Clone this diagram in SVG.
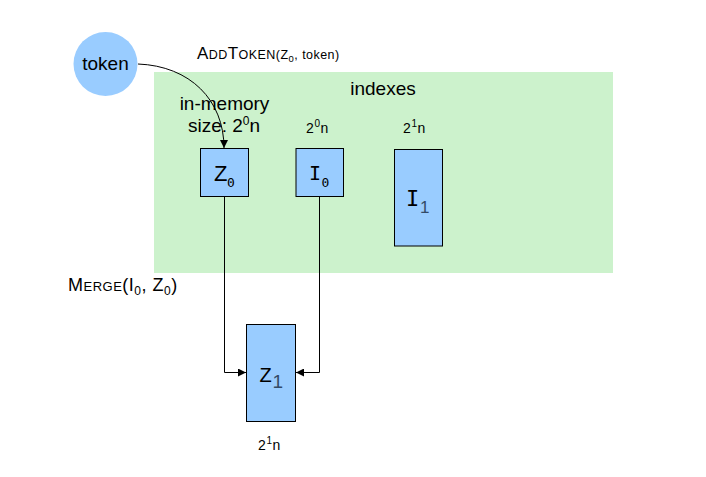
<svg xmlns="http://www.w3.org/2000/svg" width="706" height="477" viewBox="0 0 706 477">
<style>
.s{font-family:"Liberation Sans",Arial,sans-serif;fill:#000}
.m{font-family:"DejaVu Sans Mono",monospace;fill:#000}
.box{fill:#99ccff;stroke:#000;stroke-width:1}
.ln{fill:none;stroke:#000;stroke-width:1}
.dk{fill:#334a66}
.sz{font-size:14px;letter-spacing:0.6px}
</style>
<defs>
<marker id="ah" viewBox="0 0 10 10" refX="10" refY="5" markerWidth="8" markerHeight="8" markerUnits="userSpaceOnUse" orient="auto">
<path d="M0,0 L10,5 L0,10 z" fill="#000"/>
</marker>
</defs>
<rect width="706" height="477" fill="#fff"/>
<g id="indexes">
<rect x="154" y="72" width="459" height="201" fill="#ccf2cc"/>
<text class="s" x="383" y="95" font-size="19" text-anchor="middle">indexes</text>
</g>
<g id="token">
<circle cx="105.5" cy="64" r="32" fill="#99ccff"/>
<text class="s" x="105.5" y="70" font-size="19" text-anchor="middle">token</text>
</g>
<g id="labels">
<text class="s" x="197" y="59" font-size="17" letter-spacing="0.45">A<tspan font-size="12.5">DD</tspan>T<tspan font-size="12.5">OKEN(Z</tspan><tspan font-size="9.5" dy="3">0</tspan><tspan font-size="12.5" dy="-3">, token)</tspan></text>
<text class="s" x="224.5" y="110" font-size="19" text-anchor="middle">in-memory</text>
<text class="s" x="224" y="132" font-size="19" text-anchor="middle">size: 2<tspan font-size="12" dy="-7">0</tspan><tspan dy="7">n</tspan></text>
<text class="s" x="68" y="291" font-size="18" letter-spacing="0.5">M<tspan font-size="13">ERGE</tspan>(I<tspan font-size="12" dy="4">0</tspan><tspan dy="-4">, Z</tspan><tspan font-size="12" dy="4">0</tspan><tspan dy="-4">)</tspan></text>
</g>
<g id="Z0">
<rect class="box" x="200.5" y="148.5" width="48" height="48"/>
<text class="s" x="214" y="180.5" font-size="22">Z</text>
<text class="m" x="227" y="187" font-size="13">0</text>
</g>
<g id="I0">
<rect class="box" x="296" y="148.5" width="47.5" height="48"/>
<text class="m" x="309" y="179.5" font-size="20">I</text>
<text class="m" x="321.5" y="186.5" font-size="13">0</text>
<text class="s sz" x="306" y="133">2<tspan font-size="10" dy="-6">0</tspan><tspan dy="6">n</tspan></text>
</g>
<g id="I1">
<rect class="box" x="394.5" y="149.5" width="48" height="96.5"/>
<text class="m" x="406" y="206" font-size="22">I</text>
<text class="s dk" x="420" y="212.5" font-size="17">1</text>
<text class="s sz" x="403" y="133">2<tspan font-size="10" dy="-6">1</tspan><tspan dy="6">n</tspan></text>
</g>
<g id="Z1">
<rect class="box" x="246.5" y="324.5" width="49" height="97"/>
<text class="s" x="259.5" y="381.5" font-size="20">Z</text>
<text class="s dk" x="272.5" y="387.5" font-size="19">1</text>
<text class="s sz" x="258" y="450">2<tspan font-size="10" dy="-6">1</tspan><tspan dy="6">n</tspan></text>
</g>
<g id="connectors">
<path class="ln" d="M138,64 C190,66 224,100 224,148" marker-end="url(#ah)"/>
<path class="ln" d="M224.5,196.5 V372.5 H246" marker-end="url(#ah)"/>
<path class="ln" d="M319.5,196.5 V372.5 H296" marker-end="url(#ah)"/>
</g>
</svg>
